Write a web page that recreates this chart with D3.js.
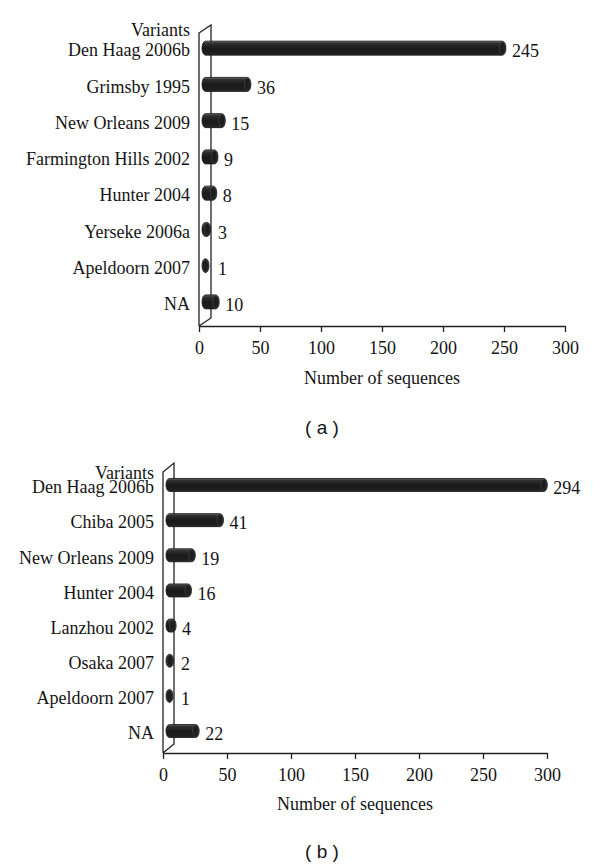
<!DOCTYPE html>
<html><head><meta charset="utf-8">
<script src="https://cdn.jsdelivr.net/npm/d3@7"></script>
<style>body{margin:0;background:#fff}svg{display:block}</style>
</head><body>
<script>
const categoriesA = ["Den Haag 2006b","Grimsby 1995","New Orleans 2009","Farmington Hills 2002","Hunter 2004","Yerseke 2006a","Apeldoorn 2007","NA"];
const valuesA = [245,36,15,9,8,3,1,10];
const categoriesB = ["Den Haag 2006b","Chiba 2005","New Orleans 2009","Hunter 2004","Lanzhou 2002","Osaka 2007","Apeldoorn 2007","NA"];
const valuesB = [294,41,19,16,4,2,1,22];
const ticks = [0,50,100,150,200,250,300];
const axisTitle = "Number of sequences";
const headerLabel = "Variants";

const svg = d3.select("body").append("svg").attr("width",600).attr("height",866);
const defs = svg.append("defs");
const grad = defs.append("linearGradient").attr("id","cyl").attr("x1",0).attr("y1",0).attr("x2",0).attr("y2",1);
[[0,"#6a6a6a"],[0.15,"#303030"],[0.5,"#1a1a1a"],[0.85,"#1e1e1e"],[1,"#2c2c2c"]].forEach(([o,c])=>grad.append("stop").attr("offset",o).attr("stop-color",c));

function panel(cfg){
  const {cats, vals, x0, x1, yTop, yAxis, bandTop, bandBot, depthX, depthY, barH, headerGap, titleY, caption, captionY, captionX} = cfg;
  const g = svg.append("g");
  const x = d3.scaleLinear().domain([0,300]).range([x0,x1]);
  const y = d3.scaleBand().domain(cats).range([bandTop,bandBot]);
  const serif = "'Liberation Serif','Times New Roman',serif";
  const ink = "#141414";
  // back wall
  const wall = d3.path();
  wall.moveTo(x0, yAxis); wall.lineTo(x0, yTop); wall.lineTo(x0+depthX, yTop-depthY);
  wall.lineTo(x0+depthX, yAxis-depthY); wall.lineTo(x0, yAxis);
  g.append("path").attr("d",wall.toString()).attr("fill","none").attr("stroke","#222").attr("stroke-width",1.3);
  // x axis
  const ax = g.append("g").attr("transform",`translate(0,${yAxis})`)
    .call(d3.axisBottom(x).tickValues(ticks).tickSize(6).tickPadding(6).tickSizeOuter(0));
  ax.select(".domain").attr("stroke","#222").attr("stroke-width",1.3);
  ax.selectAll(".tick line").attr("stroke","#222").attr("stroke-width",1.3);
  ax.selectAll(".tick text").attr("font-family",serif).attr("font-size",18).attr("fill",ink).attr("dy","0.71em").attr("y",15);
  g.append("text").attr("x",(x0+x1)/2).attr("y",titleY).attr("text-anchor","middle")
    .attr("font-family",serif).attr("font-size",18).attr("fill",ink).text(axisTitle);
  // category labels
  g.selectAll(".cl").data(cats).join("text").attr("class","cl")
    .attr("x",x0-9).attr("y",d=>y(d)+y.bandwidth()/2).attr("dy","0.35em").attr("text-anchor","end")
    .attr("font-family",serif).attr("font-size",18).attr("fill",ink).text(d=>d);
  g.append("text").attr("x",x0-9).attr("y",y(cats[0])+y.bandwidth()/2-headerGap).attr("dy","0.35em").attr("text-anchor","end")
    .attr("font-family",serif).attr("font-size",18).attr("fill",ink).text(headerLabel);
  // bars (3D cylinders)
  const r = 3.5;
  const data = cats.map((c,i)=>({c,v:vals[i]}));
  const bg = g.selectAll(".bar").data(data).join("g").attr("class","bar");
  bg.append("path").attr("d",d=>{
    const xs = x(0)+3, xe = Math.max(x(d.v)+8 - r, xs+r), cy = y(d.c)+y.bandwidth()/2-2, h = barH/2;
    return `M${xs+r},${cy-h} L${xe},${cy-h} A${r},${h} 0 0 1 ${xe},${cy+h} L${xs+r},${cy+h} A${r},${h} 0 0 1 ${xs+r},${cy-h} Z`;
  }).attr("fill","url(#cyl)").attr("stroke","#111").attr("stroke-width",0.8);
  bg.append("ellipse").attr("cx",d=>Math.max(x(d.v)+8-r, x(0)+3+r)).attr("cy",d=>y(d.c)+y.bandwidth()/2-2)
    .attr("rx",r-0.5).attr("ry",barH/2-0.8).attr("fill","#1e1e1e").attr("stroke","#4a4a4a").attr("stroke-width",0.6);
  // value labels
  g.selectAll(".vl").data(data).join("text").attr("class","vl")
    .attr("x",d=>Math.max(x(d.v)+14, x0+depthX+7)).attr("y",d=>y(d.c)+y.bandwidth()/2+1).attr("dy","0.35em")
    .attr("font-family",serif).attr("font-size",18).attr("fill",ink).text(d=>d.v);
  // caption
  svg.append("text").attr("x",captionX).attr("y",captionY).attr("dy","0.35em").attr("text-anchor","middle")
    .attr("font-family","'Liberation Sans',Arial,sans-serif").attr("font-size",19).attr("fill",ink)
    .attr("xml:space","preserve").text(caption);
}

panel({cats:categoriesA, vals:valuesA, x0:199, x1:565, yTop:33, yAxis:326, bandTop:32, bandBot:322,
  depthX:12, depthY:8, barH:14, headerGap:20, titleY:384, caption:"( a )", captionY:427, captionX:322});
panel({cats:categoriesB, vals:valuesB, x0:163, x1:547, yTop:472, yAxis:753, bandTop:469.4, bandBot:750.6,
  depthX:11, depthY:9, barH:13, headerGap:14, titleY:810, caption:"( b )", captionY:851, captionX:322});
</script>
</body></html>
